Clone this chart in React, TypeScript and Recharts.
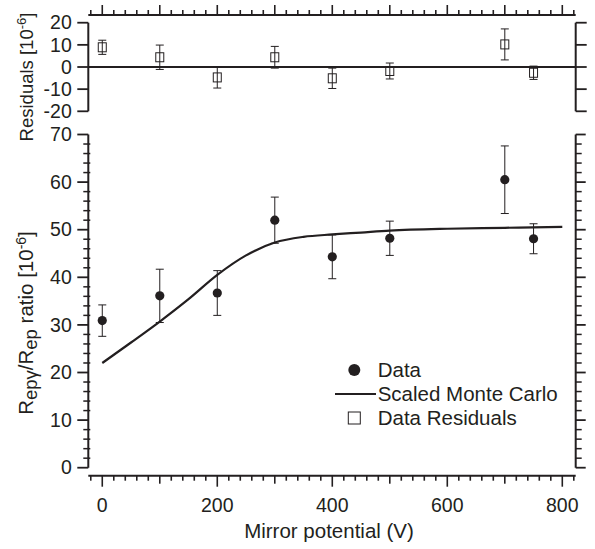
import React from 'react';
import { ComposedChart, Scatter, Line, XAxis, YAxis, ErrorBar, ReferenceLine, Legend } from 'recharts';

// ---------- data ----------
const potentials = [0, 100, 200, 300, 400, 500, 700, 750];
const ratioValues = [30.9, 36.1, 36.7, 52.0, 44.3, 48.2, 60.5, 48.1];
const ratioErrors = [3.3, 5.6, 4.7, 4.85, 4.6, 3.6, 7.1, 3.15];
const residualValues = [8.9, 4.4, -4.7, 4.4, -5.1, -1.8, 10.2, -2.6];
const residualErrors = [3.2, 5.5, 4.8, 4.9, 4.6, 3.6, 7.0, 3.0];
const mcPotentials = [0, 50, 100, 150, 200, 250, 300, 350, 400, 450, 500, 600, 700, 800];
const mcValues = [22.0, 26.3, 30.7, 35.4, 40.5, 44.6, 47.3, 48.5, 49.0, 49.4, 49.8, 50.2, 50.4, 50.6];

const xTickLabels = [0, 200, 400, 600, 800];
const ratioTickLabels = [0, 10, 20, 30, 40, 50, 60, 70];
const residualTickLabels = [-20, -10, 0, 10, 20];
const legendItems = ['Data', 'Scaled Monte Carlo', 'Data Residuals'];

// ---------- derived tables ----------
const ratioData = potentials.map((x, i) => ({ x, y: ratioValues[i], err: ratioErrors[i] }));
const residualData = potentials.map((x, i) => ({ x, y: residualValues[i], err: residualErrors[i] }));
const mcData = mcPotentials.map((x, i) => ({ x, mc: mcValues[i] }));

// ---------- axis setup ----------
const X_MIN = -24.3;
const X_MAX = 823.3;
const xMinorTicks = Array.from({ length: 43 }, (_, i) => -20 + i * 20);
const ratioMinorTicks = Array.from({ length: 36 }, (_, i) => i * 2);

const W = 595;
const H = 549;
const FONT = '"Liberation Sans", Arial, Helvetica, sans-serif';
const INK = '#231f20';
const TICK_FS = 19.5;

const XBottomTick = (p: any) => {
  const v = p.payload.value;
  const len = v % 200 === 0 ? 11 : v % 100 === 0 ? 8 : 5;
  return (
    <g>
      <line x1={p.x} x2={p.x} y1={p.y} y2={p.y + len} stroke={INK} strokeWidth={1.6} />
      {xTickLabels.includes(v) && (
        <text x={p.x} y={p.y + 36} textAnchor="middle" fontFamily={FONT} fontSize={TICK_FS} fill={INK}>
          {v}
        </text>
      )}
    </g>
  );
};

const XTopTick = (p: any) => {
  const v = p.payload.value;
  const len = v % 100 === 0 ? 10 : 5;
  return <line x1={p.x} x2={p.x} y1={p.y} y2={p.y - len} stroke={INK} strokeWidth={1.6} />;
};

const RatioLeftTick = (p: any) => {
  const v = p.payload.value;
  const major = ratioTickLabels.includes(v);
  return (
    <g>
      {major ? (
        <line x1={p.x - 11} x2={p.x} y1={p.y} y2={p.y} stroke={INK} strokeWidth={1.8} />
      ) : (
        <line x1={p.x - 5} x2={p.x + 2} y1={p.y} y2={p.y} stroke={INK} strokeWidth={1.5} />
      )}
      {major && (
        <text x={p.x - 16.5} y={p.y + 6.7} textAnchor="end" fontFamily={FONT} fontSize={TICK_FS} fill={INK}>
          {v}
        </text>
      )}
    </g>
  );
};

const RatioRightTick = (p: any) => {
  const v = p.payload.value;
  const major = ratioTickLabels.includes(v);
  return <line x1={p.x} x2={p.x + (major ? 10 : 6)} y1={p.y} y2={p.y} stroke={INK} strokeWidth={major ? 1.8 : 1.5} />;
};

const ResidualLeftTick = (p: any) => (
  <g>
    <line x1={p.x - 11} x2={p.x} y1={p.y} y2={p.y} stroke={INK} strokeWidth={1.8} />
    <text x={p.x - 16.5} y={p.y + 6.7} textAnchor="end" fontFamily={FONT} fontSize={TICK_FS} fill={INK}>
      {p.payload.value}
    </text>
  </g>
);

const ResidualRightTick = (p: any) => (
  <line x1={p.x} x2={p.x + 11} y1={p.y} y2={p.y} stroke={INK} strokeWidth={1.8} />
);

const DataDot = (p: any) => <circle cx={p.cx} cy={p.cy} r={4.6} fill={INK} />;
const ResidualSquare = (p: any) => (
  <rect x={p.cx - 4} y={p.cy - 4.5} width={8} height={9} fill="none" stroke={INK} strokeWidth={1} />
);

const ResidualTitle = () => {
  const cx = 33;
  const cy = 77;
  return (
    <text
      x={cx}
      y={cy}
      transform={`rotate(-90 ${cx} ${cy})`}
      textAnchor="middle"
      fontFamily={FONT}
      fontSize={18.5}
      fill={INK}
    >
      Residuals [10
      <tspan dy={-7} fontSize={13}>-6</tspan>
      <tspan dy={7}>]</tspan>
    </text>
  );
};

const RatioTitle = () => {
  const cx = 33;
  const cy = 323;
  return (
    <text
      x={cx}
      y={cy}
      transform={`rotate(-90 ${cx} ${cy})`}
      textAnchor="middle"
      fontFamily={FONT}
      fontSize={20.5}
      fill={INK}
    >
      R
      <tspan dy={4} fontSize={18.5}>epγ</tspan>
      <tspan dy={-4}>/R</tspan>
      <tspan dy={4} fontSize={18.5}>ep</tspan>
      <tspan dy={-4}> ratio [10</tspan>
      <tspan dy={-7.5} fontSize={14}>-6</tspan>
      <tspan dy={7.5}>]</tspan>
    </text>
  );
};

const XTitle = () => (
  <text x={329} y={538} textAnchor="middle" fontFamily={FONT} fontSize={20.5} fill={INK}>
    Mirror potential (V)
  </text>
);

const renderLegend = () => (
  <svg width={260} height={80} style={{ display: 'block', overflow: 'visible' }}>
    {legendItems.map((name, i) => {
      const cy = 15 + 24 * i;
      return (
        <g key={name}>
          {i === 0 && <circle cx={24.3} cy={cy} r={6} fill={INK} />}
          {i === 1 && <line x1={5} x2={46} y1={cy} y2={cy} stroke={INK} strokeWidth={2} />}
          {i === 2 && <rect x={18.3} y={cy - 6} width={12} height={12} fill="none" stroke={INK} strokeWidth={1} />}
          <text x={47.7} y={cy + 6.9} fontFamily={FONT} fontSize={20.5} fill={INK}>
            {name}
          </text>
        </g>
      );
    })}
  </svg>
);

const axisCommon = {
  type: 'number' as const,
  allowDataOverflow: true,
  interval: 0 as const,
  tickSize: 0,
  tickMargin: 0,
  tickLine: false,
};

export default function App() {
  return (
    <div style={{ position: 'absolute', left: 0, top: 0, width: W, height: H, background: '#fff' }}>
      {/* Residuals panel */}
      <div style={{ position: 'absolute', left: 0, top: 0 }}>
        <ComposedChart width={W} height={H} margin={{ top: 14, right: W - 575.7 - 1, bottom: H - 111.3, left: 87.3 }}>
          <XAxis
            {...axisCommon}
            xAxisId="t"
            dataKey="x"
            orientation="top"
            domain={[X_MIN, X_MAX]}
            ticks={xMinorTicks}
            height={1}
            tick={XTopTick}
            axisLine={{ stroke: INK, strokeWidth: 2 }}
          />
          <YAxis
            {...axisCommon}
            yAxisId="l"
            domain={[-20, 23.48]}
            ticks={residualTickLabels}
            width={1}
            axisLine={false}
            tick={ResidualLeftTick}
            label={ResidualTitle}
          />
          <YAxis
            {...axisCommon}
            yAxisId="r"
            orientation="right"
            domain={[-20, 23.48]}
            ticks={residualTickLabels}
            width={1}
            axisLine={false}
            tick={ResidualRightTick}
          />
          <ReferenceLine
            xAxisId="t"
            yAxisId="l"
            segment={[{ x: X_MIN, y: -20 }, { x: X_MIN, y: 20 }]}
            stroke={INK}
            strokeWidth={2}
            ifOverflow="visible"
          />
          <ReferenceLine
            xAxisId="t"
            yAxisId="l"
            segment={[{ x: X_MAX, y: -20 }, { x: X_MAX, y: 20 }]}
            stroke={INK}
            strokeWidth={2}
            ifOverflow="visible"
          />
          <ReferenceLine xAxisId="t" yAxisId="l" y={0} stroke={INK} strokeWidth={2} ifOverflow="visible" />
          <Scatter
            xAxisId="t"
            yAxisId="l"
            name="Data Residuals"
            data={residualData}
            dataKey="y"
            shape={ResidualSquare}
            isAnimationActive={false}
          >
            <ErrorBar dataKey="err" direction="y" width={4} stroke={INK} strokeWidth={1} />
          </Scatter>
        </ComposedChart>
      </div>

      {/* Ratio panel */}
      <div style={{ position: 'absolute', left: 0, top: 0 }}>
        <ComposedChart width={W} height={H} margin={{ top: 134.5, right: W - 575.7 - 1, bottom: H - 475.7 - 1, left: 87.3 }}>
          <XAxis
            {...axisCommon}
            xAxisId="b"
            dataKey="x"
            domain={[X_MIN, X_MAX]}
            ticks={xMinorTicks}
            height={1}
            tick={XBottomTick}
            axisLine={{ stroke: INK, strokeWidth: 2 }}
            label={XTitle}
          />
          <YAxis
            {...axisCommon}
            yAxisId="l"
            domain={[-1.68, 70]}
            ticks={ratioMinorTicks}
            width={1}
            axisLine={false}
            tick={RatioLeftTick}
            label={RatioTitle}
          />
          <YAxis
            {...axisCommon}
            yAxisId="r"
            orientation="right"
            domain={[-1.68, 70]}
            ticks={ratioMinorTicks}
            width={1}
            axisLine={false}
            tick={RatioRightTick}
          />
          <ReferenceLine
            xAxisId="b"
            yAxisId="l"
            segment={[{ x: X_MIN, y: 0 }, { x: X_MIN, y: 70 }]}
            stroke={INK}
            strokeWidth={2}
            ifOverflow="visible"
          />
          <ReferenceLine
            xAxisId="b"
            yAxisId="l"
            segment={[{ x: X_MAX, y: 0 }, { x: X_MAX, y: 70 }]}
            stroke={INK}
            strokeWidth={2}
            ifOverflow="visible"
          />
          <Line
            xAxisId="b"
            yAxisId="l"
            name="Scaled Monte Carlo"
            data={mcData}
            dataKey="mc"
            type="monotone"
            stroke={INK}
            strokeWidth={2.2}
            dot={false}
            activeDot={false}
            isAnimationActive={false}
          />
          <Scatter
            xAxisId="b"
            yAxisId="l"
            name="Data"
            data={ratioData}
            dataKey="y"
            shape={DataDot}
            isAnimationActive={false}
          >
            <ErrorBar dataKey="err" direction="y" width={4} stroke={INK} strokeWidth={1} />
          </Scatter>
          <Legend
            content={renderLegend}
            layout="vertical"
            align="center"
            verticalAlign="middle"
            wrapperStyle={{ position: 'absolute', left: 330, top: 355, width: 260, height: 80 }}
          />
        </ComposedChart>
      </div>
    </div>
  );
}
